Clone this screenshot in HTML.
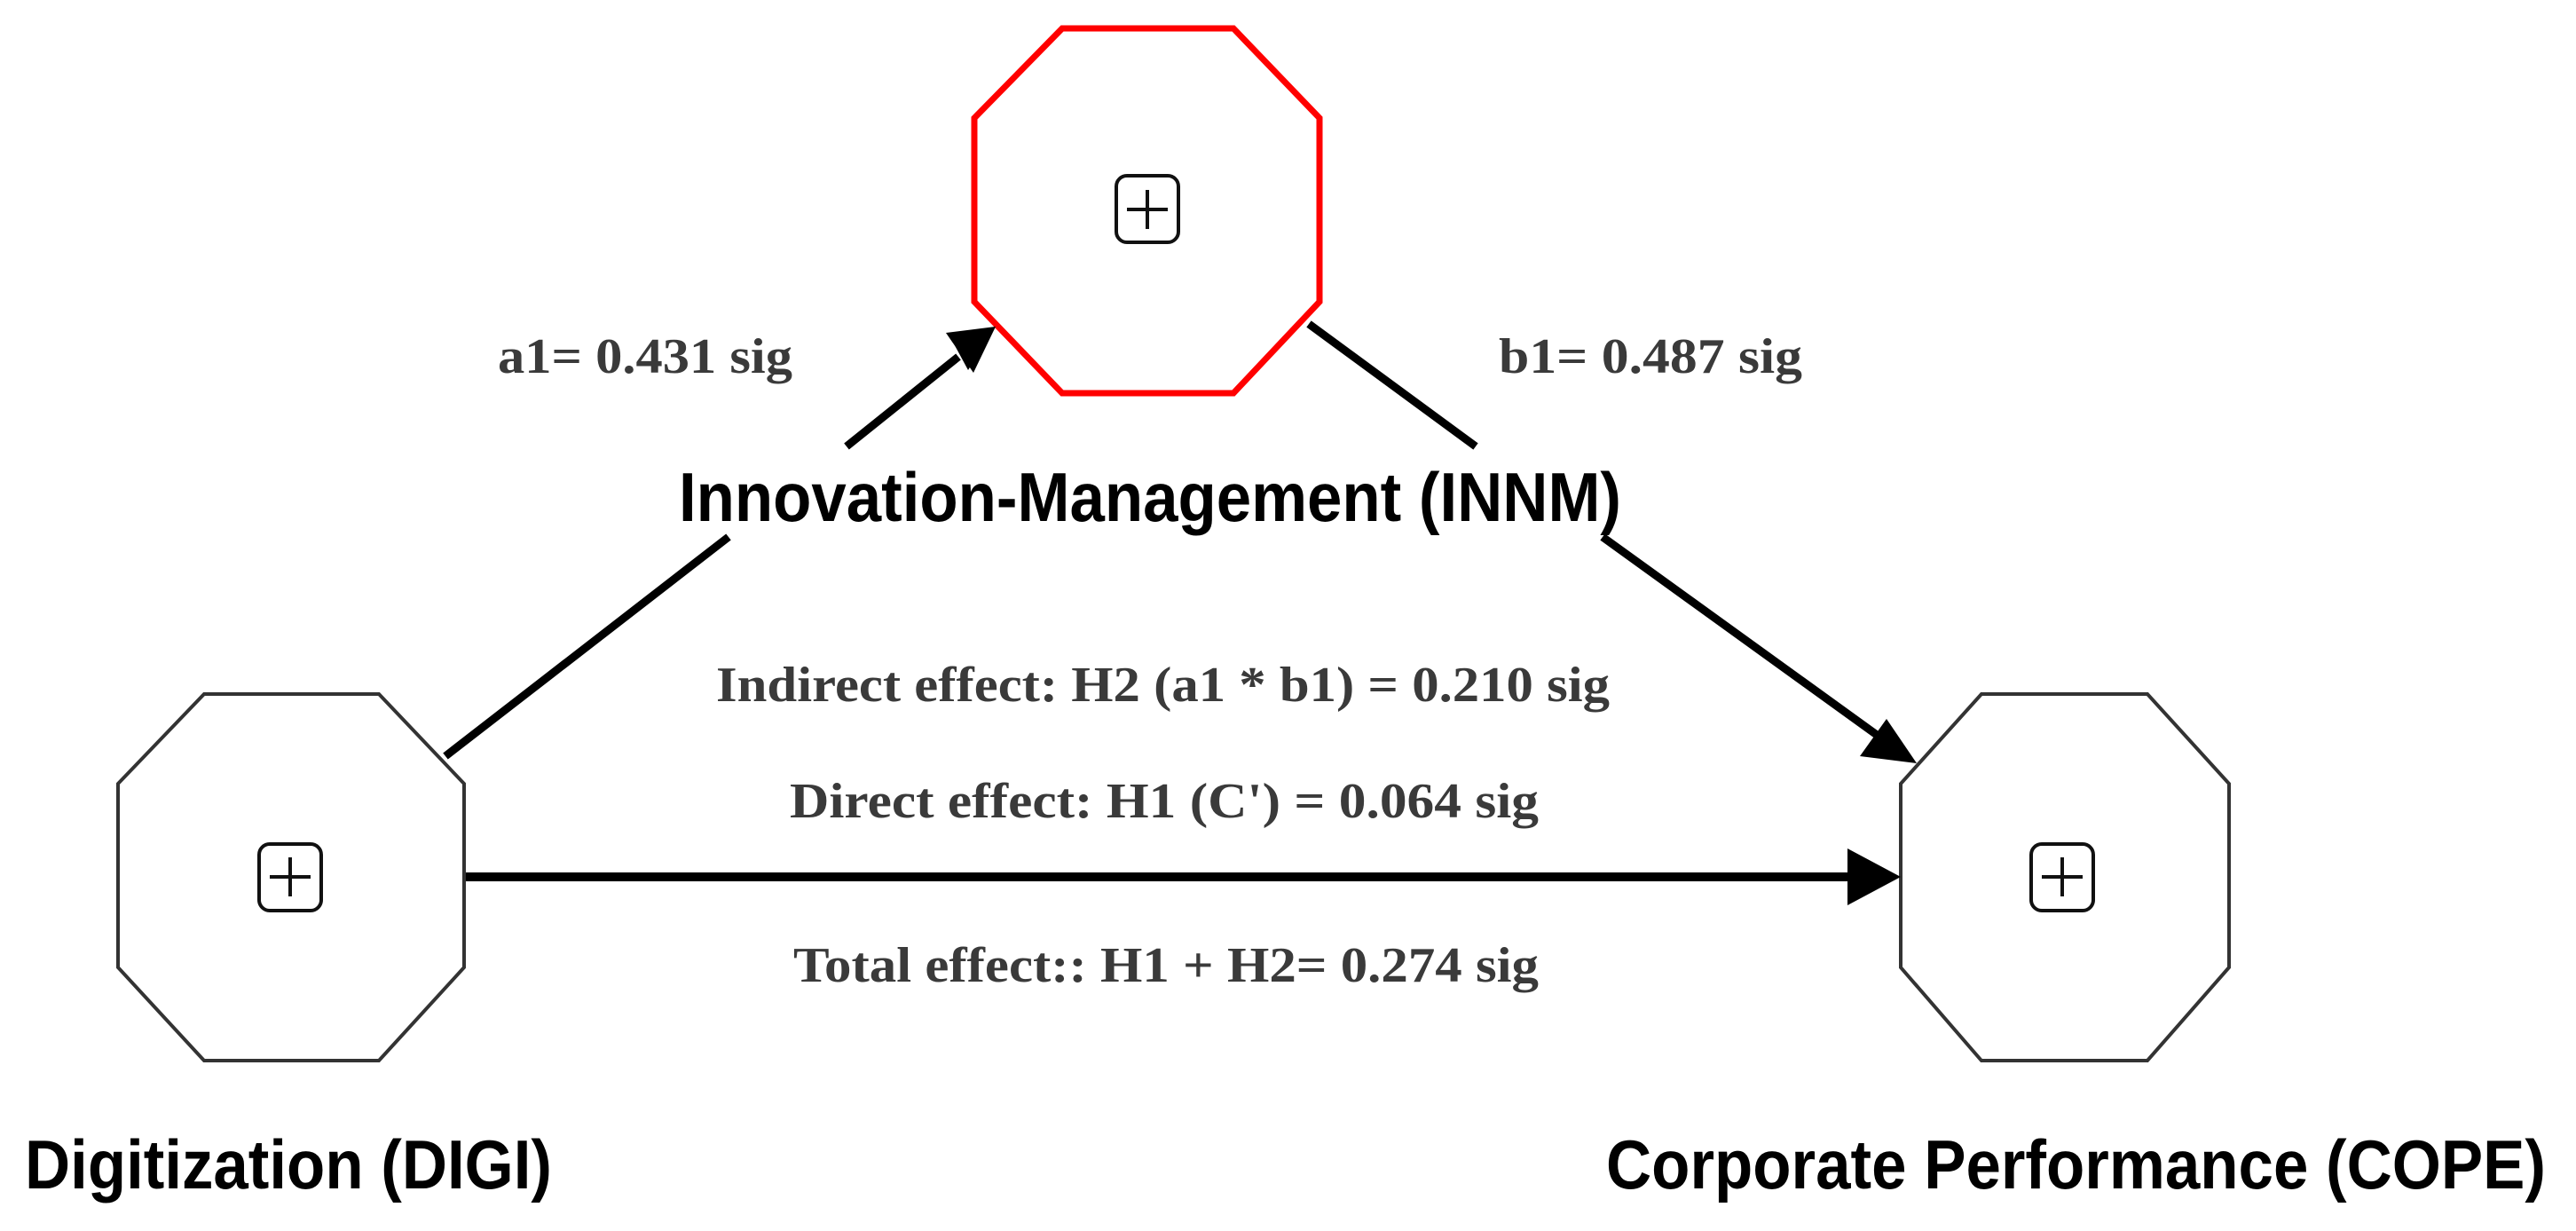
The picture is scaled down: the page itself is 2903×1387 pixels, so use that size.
<!DOCTYPE html>
<html><head><meta charset="utf-8"><style>
html,body{margin:0;padding:0;background:#fff;width:2903px;height:1387px;overflow:hidden}
</style></head><body>
<svg width="2903" height="1387" viewBox="0 0 2903 1387" xmlns="http://www.w3.org/2000/svg">
<rect width="2903" height="1387" fill="#fff"/>
<!-- INNM octagon -->
<polygon points="1197,32 1390,32 1487,133 1487,340 1390,443 1197,443 1098,340 1098,133" fill="#fff" stroke="#ff0000" stroke-width="7"/>
<!-- DIGI octagon -->
<polygon points="230,782 427,782 523,883 523,1090 427,1195 230,1195 133,1090 133,883" fill="#fff" stroke="#333" stroke-width="4"/>
<!-- COPE octagon -->
<polygon points="2233,782 2420,782 2512,883 2512,1090 2420,1195 2233,1195 2142,1090 2142,883" fill="#fff" stroke="#333" stroke-width="4"/>
<!-- plus icons -->
<g fill="none" stroke="#111" stroke-width="4">
<rect x="1258" y="198" width="70" height="75" rx="12"/><line x1="1270" y1="236" x2="1316" y2="236"/><line x1="1293" y1="214" x2="1293" y2="258"/>
<rect x="292" y="951" width="70" height="75" rx="12"/><line x1="304" y1="988" x2="350" y2="988"/><line x1="327" y1="966" x2="327" y2="1010"/>
<rect x="2289" y="951" width="70" height="75" rx="12"/><line x1="2301" y1="988" x2="2347" y2="988"/><line x1="2324" y1="966" x2="2324" y2="1010"/>
</g>
<!-- connectors -->
<g stroke="#000" stroke-width="9" fill="none">
<line x1="502" y1="852" x2="821" y2="605"/>
<line x1="954" y1="503" x2="1080" y2="402"/>
<line x1="1475" y1="365" x2="1663" y2="503"/>
<line x1="1806" y1="605" x2="2115" y2="828"/>
<line x1="525" y1="988" x2="2090" y2="988" stroke-width="10"/>
</g>
<g fill="#000">
<polygon points="1122,368 1071,380 1091,417"/>
<polygon points="1122,368 1066,375 1097,420"/>
<polygon points="2160,860 2096,852 2126,810"/>
<polygon points="2142,988 2082,956 2082,1020"/>
</g>
<!-- labels -->
<g font-family="'Liberation Serif',serif" font-weight="bold" fill="#3a3a3a" font-size="56">
<text x="561" y="420" textLength="332" lengthAdjust="spacingAndGlyphs">a1= 0.431 sig</text>
<text x="1689" y="420" textLength="342" lengthAdjust="spacingAndGlyphs">b1= 0.487 sig</text>
<text x="807" y="790" textLength="1007" lengthAdjust="spacingAndGlyphs">Indirect effect: H2 (a1 * b1) = 0.210 sig</text>
<text x="890" y="921" textLength="844" lengthAdjust="spacingAndGlyphs">Direct effect: H1 (C') = 0.064 sig</text>
<text x="894" y="1106" textLength="840" lengthAdjust="spacingAndGlyphs">Total effect:: H1 + H2= 0.274 sig</text>
</g>
<g font-family="'Liberation Sans',sans-serif" font-weight="bold" fill="#000" font-size="78">
<text x="765" y="587" textLength="1062" lengthAdjust="spacingAndGlyphs">Innovation-Management (INNM)</text>
<text x="28" y="1339" textLength="594" lengthAdjust="spacingAndGlyphs">Digitization (DIGI)</text>
<text x="1810" y="1339" textLength="1059" lengthAdjust="spacingAndGlyphs">Corporate Performance (COPE)</text>
</g>
</svg>
</body></html>
